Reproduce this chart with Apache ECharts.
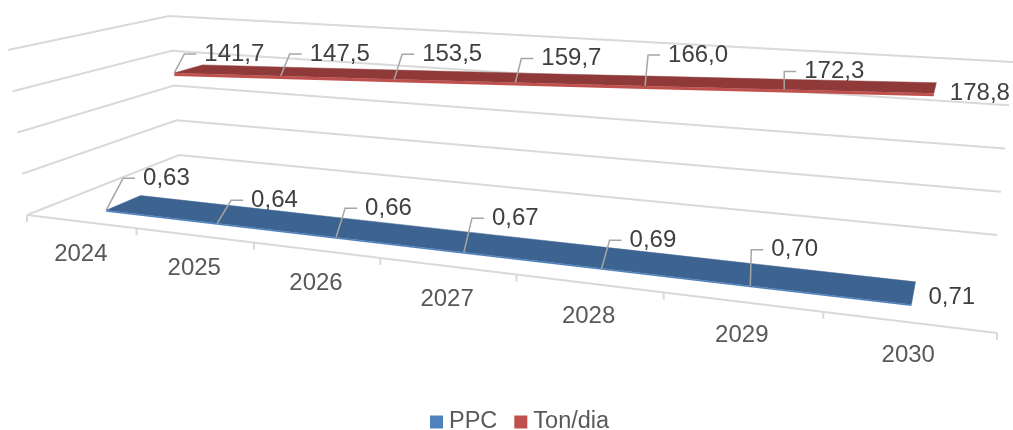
<!DOCTYPE html>
<html>
<head>
<meta charset="utf-8">
<style>
  html, body { margin: 0; padding: 0; background: #fff; }
  #chart { width: 1013px; height: 430px; }
</style>
<script src="https://cdn.jsdelivr.net/npm/echarts@6/dist/echarts.min.js"></script>
</head>
<body>
<div id="chart"></div>
<script>
const categories = ['2024', '2025', '2026', '2027', '2028', '2029', '2030'];
const ppcValues = [0.63, 0.64, 0.66, 0.67, 0.69, 0.70, 0.71];
const tonValues = [141.7, 147.5, 153.5, 159.7, 166.0, 172.3, 178.8];
const valueTicks = [0, 50, 100, 150, 200];

// label placement relative to the point, dx/dy of the leader elbow
const ppcLabelOffsets = [[17, -32], [14, -23], [9, -29], [8, -34], [8, -28], [1, -36], [8, -7]];
const tonLabelOffsets = [[10, -19], [9, -22], [8, -25], [6, -24], [3, -31], [0, -18], [7, 0]];

// the 3D box: floor and top plane corners, in order front-left, front-right, back-right, back-left
const floorQuad = [[27, 215], [997, 333], [997, 235], [179, 155]];
const topQuad = [[8, 50], [1018, 118], [1013, 62], [169, 16]];

function squareToQuad(q) {
  const [x0, y0] = q[0], [x1, y1] = q[1], [x2, y2] = q[2], [x3, y3] = q[3];
  const dx1 = x1 - x2, dx2 = x3 - x2, sx = x0 - x1 + x2 - x3;
  const dy1 = y1 - y2, dy2 = y3 - y2, sy = y0 - y1 + y2 - y3;
  const den = dx1 * dy2 - dx2 * dy1;
  const g = (sx * dy2 - dx2 * sy) / den;
  const h = (dx1 * sy - sx * dy1) / den;
  return [x1 - x0 + g * x1, x3 - x0 + h * x3, x0, y1 - y0 + g * y1, y3 - y0 + h * y3, y0, g, h];
}
const floorH = squareToQuad(floorQuad);
const topH = squareToQuad(topQuad);

function applyH(m, u, d) {
  const w = m[6] * u + m[7] * d + 1;
  return [(m[0] * u + m[1] * d + m[2]) / w, (m[3] * u + m[4] * d + m[5]) / w];
}
// u along categories, d into depth, h up (all 0..1)
function project(u, d, h) {
  const a = applyH(floorH, u, d), b = applyH(topH, u, d);
  return [a[0] + (b[0] - a[0]) * h, a[1] + (b[1] - a[1]) * h];
}
// from the axis scales to normalised box coordinates
function boxPos(api, params, cat, val) {
  const p = api.coord([cat, val]), c = params.coordSys;
  return [(p[0] - c.x) / c.width, (c.y + c.height - p[1]) / c.height];
}

const gridColor = '#d9d9d9';
const textColor = '#404040';
const axisTextColor = '#595959';
const font = '24px "Liberation Sans", Arial, sans-serif';

function renderFrame(params, api) {
  const val = api.value(0);
  const h = boxPos(api, params, 0, val)[1];
  return {
    type: 'polyline', silent: true,
    shape: { points: [project(0, 0, h), project(0, 1, h), project(1, 1, h)] },
    style: { stroke: gridColor, lineWidth: 2, fill: null }
  };
}

function renderCategory(params, api) {
  const i = api.value(0);
  const c = params.coordSys, band = api.size([1, 0])[0] / c.width;
  const u = boxPos(api, params, i, 0)[0];
  const children = [];
  const tickAt = (t) => {
    const p = project(t, 0, 0);
    children.push({ type: 'line', silent: true, shape: { x1: p[0], y1: p[1], x2: p[0], y2: p[1] + 7 },
      style: { stroke: gridColor, lineWidth: 2 } });
  };
  tickAt(u - band / 2);
  if (i === categories.length - 1) tickAt(u + band / 2);
  const m = project(u, 0, 0);
  children.push({ type: 'text', silent: true,
    style: { text: categories[i], x: m[0], y: m[1] + 33, font: font, fill: axisTextColor,
      align: 'center', verticalAlign: 'middle' } });
  // front floor edge
  if (i === 0) {
    const a = project(0, 0, 0), b = project(1, 0, 0);
    children.push({ type: 'line', silent: true, shape: { x1: a[0], y1: a[1], x2: b[0], y2: b[1] },
      style: { stroke: gridColor, lineWidth: 2 } });
  }
  return { type: 'group', children: children };
}

function ribbon(opts) {
  return function (params, api) {
    const i = api.value(0), val = api.value(1);
    const last = opts.values.length - 1;
    const here = boxPos(api, params, i, val);
    const p = project(here[0], opts.dFront, here[1]);
    const children = [];
    // whole ribbon once, with the first item
    if (i === 0) {
      const pos = opts.values.map((v, k) => boxPos(api, params, k, v));
      const front = pos.map((b) => project(b[0], opts.dFront, b[1]));
      const back = pos.map((b) => project(b[0], opts.dBack, b[1]));
      const lower = front.map((f) => [f[0], f[1] + opts.edge]);
      children.push({ type: 'polygon', silent: true, shape: { points: front.concat(back.reverse()) },
        style: { fill: opts.topColor, stroke: opts.topColor, lineWidth: 0.5 } });
      children.push({ type: 'polygon', silent: true, shape: { points: front.concat(lower.reverse()) },
        style: { fill: opts.edgeColor } });
    }
    const off = opts.offsets[i];
    const elbow = [p[0] + off[0], p[1] + off[1]];
    let textX = elbow[0] + 9;
    if (i < last) {
      children.push({ type: 'polyline', silent: true,
        shape: { points: [p, elbow, [elbow[0] + 12, elbow[1]]] },
        style: { stroke: '#a6a6a6', lineWidth: 1.5, fill: null } });
      textX = elbow[0] + 20;
    }
    children.push({ type: 'text', silent: true, z2: 5,
      style: { text: opts.format(val), x: textX, y: elbow[1], font: font, fill: textColor,
        align: 'left', verticalAlign: 'middle' } });
    return { type: 'group', children: children };
  };
}

const chart = echarts.init(document.getElementById('chart'));
chart.setOption({
  animation: false,
  backgroundColor: '#ffffff',
  grid: { left: 0, right: 0, top: 0, bottom: 0 },
  xAxis: { type: 'category', data: categories, show: false },
  yAxis: { type: 'value', min: 0, max: 200, interval: 50, show: false },
  legend: {
    left: 425, top: 405, itemWidth: 13, itemHeight: 13, itemGap: 17,
    icon: 'rect',
    data: ['PPC', 'Ton/dia'],
    textStyle: { fontFamily: '"Liberation Sans", Arial, sans-serif', fontSize: 23.5, color: axisTextColor, padding: [0, 0, 0, 1] }
  },
  series: [
    {
      type: 'custom', name: 'frame', z: 1, clip: false,
      data: valueTicks.map((v) => [v]),
      encode: { y: 0 },
      renderItem: renderFrame
    },
    {
      type: 'custom', name: 'categories', z: 1, clip: false,
      data: categories.map((c, i) => [i]),
      encode: { x: 0 },
      renderItem: renderCategory
    },
    {
      type: 'custom', name: 'PPC', z: 3, clip: false,
      itemStyle: { color: '#4f81bd' },
      data: ppcValues.map((v, i) => [i, v]),
      encode: { x: 0, y: 1 },
      renderItem: ribbon({
        values: ppcValues, offsets: ppcLabelOffsets, dFront: 0.15, dBack: 0.37,
        topColor: '#3d6491', edgeColor: '#4f81bd', edge: 1.5,
        format: (v) => v.toFixed(2).replace('.', ',')
      })
    },
    {
      type: 'custom', name: 'Ton/dia', z: 3, clip: false,
      itemStyle: { color: '#c0504d' },
      data: tonValues.map((v, i) => [i, v]),
      encode: { x: 0, y: 1 },
      renderItem: ribbon({
        values: tonValues, offsets: tonLabelOffsets, dFront: 0.655, dBack: 0.86,
        topColor: '#8f3a38', edgeColor: '#c0504d', edge: 3,
        format: (v) => v.toFixed(1).replace('.', ',')
      })
    }
  ]
});
</script>
</body>
</html>
